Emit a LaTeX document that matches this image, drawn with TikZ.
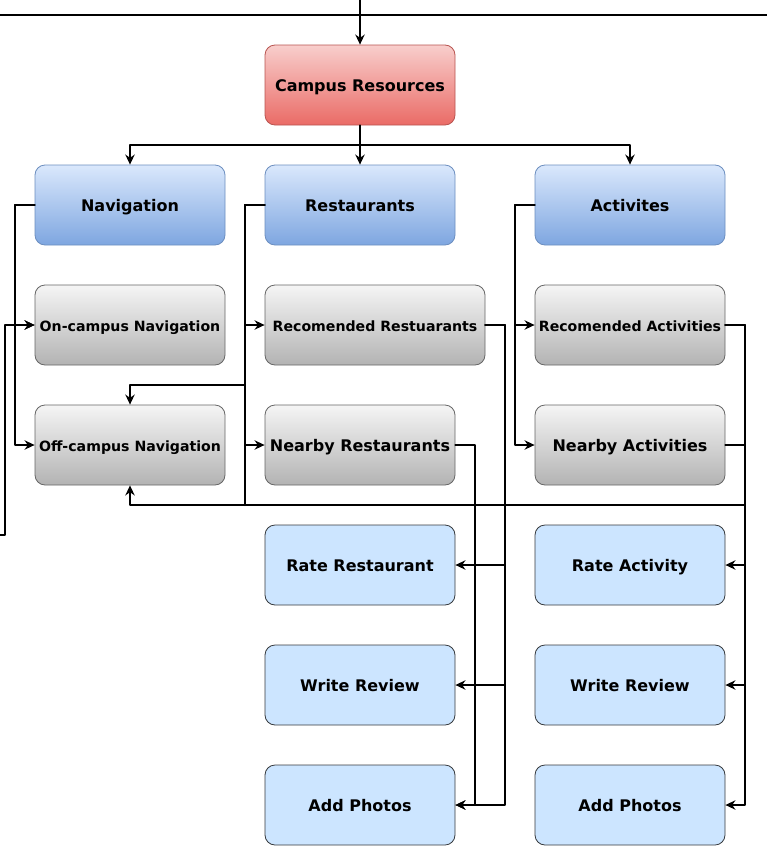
\documentclass[tikz,border=0pt]{standalone}
\usepackage{fontspec}
\setmainfont{DejaVu Sans}
\usetikzlibrary{arrows.meta}
\definecolor{redtop}{HTML}{F8CECC}
\definecolor{redbot}{HTML}{EA6B66}
\definecolor{redline}{HTML}{B85450}
\definecolor{bluetop}{HTML}{DAE8FC}
\definecolor{bluebot}{HTML}{7EA6E0}
\definecolor{blueline}{HTML}{6C8EBF}
\definecolor{graytop}{HTML}{F5F5F5}
\definecolor{graybot}{HTML}{B3B3B3}
\definecolor{grayline}{HTML}{666666}
\definecolor{taskfill}{HTML}{CCE5FF}
\definecolor{taskline}{HTML}{36393D}
\tikzset{
  box/.style={rounded corners=7.5pt, minimum width=142.5pt, minimum height=60pt,
    inner sep=0pt, text height=2ex, text depth=0.3ex,
    font=\fontsize{12pt}{14pt}\selectfont\bfseries, line width=0.6pt},
  rootbox/.style={box, top color=redtop, bottom color=redbot, draw=redline},
  groupbox/.style={box, top color=bluetop, bottom color=bluebot, draw=blueline},
  subbox/.style={box, top color=graytop, bottom color=graybot, draw=grayline},
  taskbox/.style={box, fill=taskfill, draw=taskline},
  small/.style={font=\fontsize{10.6pt}{12pt}\selectfont\bfseries},
  link/.style={line width=1.5pt, -{Stealth[length=7.5pt,width=7pt]}},
  wire/.style={line width=1.5pt}
}
\begin{document}
\begin{tikzpicture}[line cap=round,line join=round,x=0.75pt,y=-0.75pt]
		\useasboundingbox (0,0) rectangle (767,857);
		% top level
		\node[rootbox] (campus) at (360,85) {Campus Resources};
		\node[groupbox] (nav) at (130,205) {Navigation};
		\node[groupbox] (rest) at (360,205) {Restaurants};
		\node[groupbox] (act) at (630,205) {Activites};
		% second level
		\node[subbox,small] (oncamp) at (130,325) {On-campus Navigation};
		\node[subbox,small] (offcamp) at (130,445) {Off-campus Navigation};
		\node[subbox,small,minimum width=165pt] (recrest) at (375,325) {Recomended Restuarants};
		\node[subbox] (nearrest) at (360,445) {Nearby Restaurants};
		\node[subbox,small] (recact) at (630,325) {Recomended Activities};
		\node[subbox] (nearact) at (630,445) {Nearby Activities};
		% tasks
		\node[taskbox] (raterest) at (360,565) {Rate Restaurant};
		\node[taskbox] (revrest) at (360,685) {Write Review};
		\node[taskbox] (photorest) at (360,805) {Add Photos};
		\node[taskbox] (rateact) at (630,565) {Rate Activity};
		\node[taskbox] (revact) at (630,685) {Write Review};
		\node[taskbox] (photoact) at (630,805) {Add Photos};
		% bus points
		\coordinate (tl) at (0,15);
		\coordinate (tr) at (767,15);
		\coordinate (top) at (360,0);
		\coordinate (fork) at (360,145);
		\coordinate (ext) at (0,535);
		\coordinate (rbus) at (245,385);
		\coordinate (lowbus) at (745,505);
		% connectors
		\draw[wire] (tl) -- (tr);
		\draw[link] (top) -- (campus);
		\draw[link] (campus) -- (rest);
		\draw[link] (fork) -| (nav);
		\draw[link] (fork) -| (act);
		\draw[link] (nav.west) -- ++(-20,0) |- (oncamp.west);
		\draw[link] (nav.west) -- ++(-20,0) |- (offcamp.west);
		\draw[link] (ext) -- ++(5,0) |- (oncamp.west);
		\draw[link] (rest.west) -- ++(-20,0) |- (recrest.west);
		\draw[link] (rest.west) -- ++(-20,0) |- (nearrest.west);
		\draw[link] (rest.west) -| (rbus) -| (offcamp.north);
		\draw[wire] (rbus) -- (rbus |- lowbus);
		\draw[link] (nearact.east) -| (lowbus) -| (offcamp.south);
		\draw[link] (act.west) -- ++(-20,0) |- (recact.west);
		\draw[link] (act.west) -- ++(-20,0) |- (nearact.west);
		\draw[link] (recrest.east) -- ++(20,0) |- (raterest.east);
		\draw[link] (recrest.east) -- ++(20,0) |- (revrest.east);
		\draw[link] (recrest.east) -- ++(20,0) |- (photorest.east);
		\draw[link] (nearrest.east) -- ++(20,0) |- (photorest.east);
		\draw[link] (recact.east) -- ++(20,0) |- (rateact.east);
		\draw[link] (recact.east) -- ++(20,0) |- (revact.east);
		\draw[link] (recact.east) -- ++(20,0) |- (photoact.east);
		\end{tikzpicture}
\end{document}
